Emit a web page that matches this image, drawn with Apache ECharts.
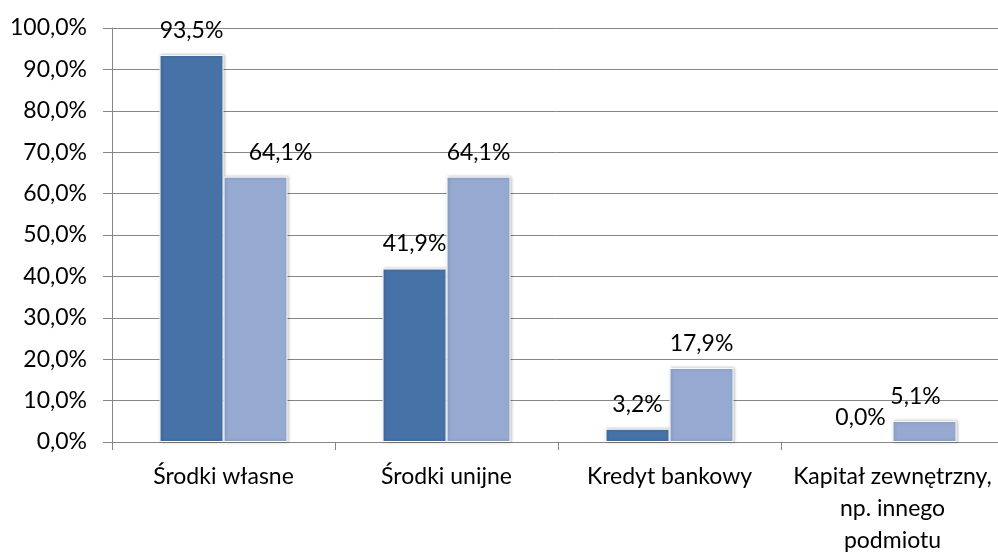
<!DOCTYPE html>
<html>
<head>
<meta charset="utf-8">
<script src="https://cdn.jsdelivr.net/npm/echarts@6/dist/echarts.min.js"></script>
<style>
html,body{margin:0;padding:0;background:#fff;}
#chart{width:998px;height:553px;}
</style>
</head>
<body>
<div id="chart"></div>
<script>
const categories = ['Środki własne', 'Środki unijne', 'Kredyt bankowy', 'Kapitał zewnętrzny,\nnp. innego\npodmiotu'];
const seriesDark = [93.5, 41.9, 3.2, 0.0];
const seriesLight = [64.1, 64.1, 17.9, 5.1];
const yTicks = [0, 10, 20, 30, 40, 50, 60, 70, 80, 90, 100];

const fmt = v => v.toFixed(1).replace('.', ',') + '%';
const FONT = 'Lato';
const FS = 23;
const GRAY = '#868686';

const lightOffsets = [[25, 0], [0, 0], [0, 0], [-9, 0]];

function itemFor(v, off) {
  const o = {value: v};
  if (off) o.label = {offset: off};
  if (v === 0) o.itemStyle = {borderWidth: 0, shadowBlur: 0, shadowColor: 'transparent', color: 'transparent'};
  return o;
}

const chart = echarts.init(document.getElementById('chart'), null, {renderer: 'canvas'});
chart.setOption({
  animation: false,
  backgroundColor: '#ffffff',
  textStyle: {fontFamily: FONT},
  grid: {left: 112, top: 28, width: 892, bottom: 111, containLabel: false, outerBoundsMode: 'none'},
  xAxis: {
    type: 'category',
    data: categories,
    axisLine: {show: true, lineStyle: {color: GRAY, width: 1}},
    axisTick: {show: true, length: 8, interval: 0, lineStyle: {color: GRAY, width: 1}},
    axisLabel: {interval: 0, color: '#000', fontSize: FS, fontFamily: FONT, lineHeight: 32, margin: 19}
  },
  yAxis: {
    type: 'value',
    min: 0, max: 100, interval: 10,
    axisLine: {show: true, lineStyle: {color: GRAY, width: 1}},
    axisTick: {show: true, length: 9, lineStyle: {color: GRAY, width: 1}},
    splitLine: {show: true, lineStyle: {color: GRAY, width: 1}},
    axisLabel: {color: '#000', fontSize: FS, fontFamily: FONT, margin: 25,
      formatter: v => yTicks.includes(v) ? fmt(v) : ''}
  },
  series: [
    {
      type: 'bar',
      name: 'Seria 1',
      data: seriesDark.map(v => itemFor(v, null)),
      barWidth: 64,
      barGap: '0%',
      itemStyle: {color: '#4672a7', borderColor: '#ffffff', borderWidth: 1,
        shadowBlur: 3, shadowColor: 'rgba(0,0,0,0.25)', shadowOffsetX: 1, shadowOffsetY: 0},
      label: {show: true, position: 'top', distance: 13, color: '#000', fontSize: FS, fontFamily: FONT,
        formatter: p => fmt(p.value)}
    },
    {
      type: 'bar',
      name: 'Seria 2',
      data: seriesLight.map((v, i) => itemFor(v, lightOffsets[i])),
      barWidth: 64,
      itemStyle: {color: '#95a9d1', borderColor: '#ffffff', borderWidth: 1,
        shadowBlur: 3, shadowColor: 'rgba(0,0,0,0.25)', shadowOffsetX: 1, shadowOffsetY: 0},
      label: {show: true, position: 'top', distance: 13, color: '#000', fontSize: FS, fontFamily: FONT,
        formatter: p => fmt(p.value)}
    }
  ]
});
</script>
</body>
</html>
